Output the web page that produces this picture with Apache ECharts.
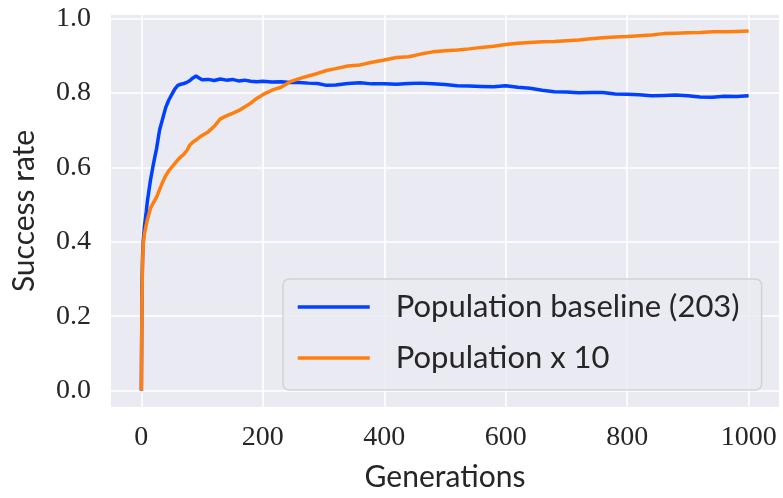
<!DOCTYPE html>
<html>
<head>
<meta charset="utf-8">
<script src="https://cdn.jsdelivr.net/npm/echarts@6/dist/echarts.min.js"></script>
<style>
  html, body { margin: 0; padding: 0; background: #fff; }
  #chart { width: 783px; height: 498px; }
</style>
</head>
<body>
<div id="chart"></div>
<script>
// generation index shared by both curves
const gens = [0, 1, 2, 3, 5, 8, 10, 15, 20, 25, 30, 35, 40, 45, 50, 55, 60, 65, 70, 75,
  80, 85, 90, 95, 100, 110, 120, 130, 140, 150, 160, 170, 180, 190, 200, 215, 230, 245,
  260, 275, 290, 305, 320, 340, 360, 380, 400, 420, 440, 460, 480, 500, 520, 540, 560,
  580, 600, 620, 640, 660, 680, 700, 720, 740, 760, 780, 800, 820, 840, 860, 880, 900,
  920, 940, 960, 980, 1000];

const baselineRate = [0.0, 0.28, 0.36, 0.40, 0.44, 0.48, 0.51, 0.565, 0.61, 0.65, 0.70,
  0.73, 0.76, 0.78, 0.795, 0.81, 0.82, 0.823, 0.825, 0.828, 0.833, 0.84, 0.845, 0.84,
  0.835, 0.836, 0.833, 0.837, 0.834, 0.836, 0.832, 0.834, 0.831, 0.830, 0.831, 0.829,
  0.830, 0.828, 0.828, 0.826, 0.825, 0.820, 0.821, 0.825, 0.827, 0.824, 0.824, 0.823,
  0.825, 0.826, 0.824, 0.822, 0.819, 0.818, 0.817, 0.816, 0.819, 0.815, 0.812, 0.807,
  0.803, 0.802, 0.800, 0.801, 0.801, 0.797, 0.796, 0.795, 0.792, 0.793, 0.794, 0.792,
  0.789, 0.788, 0.791, 0.790, 0.792];

const x10Rate = [0.0, 0.25, 0.34, 0.39, 0.42, 0.445, 0.46, 0.49, 0.505, 0.52, 0.54, 0.56,
  0.577, 0.59, 0.60, 0.61, 0.62, 0.628, 0.635, 0.645, 0.66, 0.668, 0.673, 0.68, 0.685,
  0.695, 0.71, 0.73, 0.738, 0.745, 0.752, 0.762, 0.772, 0.785, 0.795, 0.807, 0.815, 0.83,
  0.838, 0.845, 0.852, 0.86, 0.865, 0.872, 0.875, 0.882, 0.888, 0.895, 0.897, 0.904,
  0.91, 0.913, 0.915, 0.918, 0.922, 0.925, 0.930, 0.933, 0.935, 0.937, 0.938, 0.940,
  0.942, 0.945, 0.948, 0.950, 0.951, 0.953, 0.955, 0.959, 0.960, 0.961, 0.962, 0.964,
  0.964, 0.965, 0.966];

const xTicks = [0, 200, 400, 600, 800, 1000];
const yTicks = [0, 0.2, 0.4, 0.6, 0.8, 1.0];

const serif = '"Liberation Serif", "DejaVu Serif", serif';
const sans = 'Lato, "Noto Sans", sans-serif';
const ink = '#262626';

const chart = echarts.init(document.getElementById('chart'));

chart.setOption({
  animation: false,
  grid: {
    left: 111,
    top: 15,
    width: 668,
    height: 392,
    show: true,
    backgroundColor: '#EAEAF2',
    borderWidth: 0
  },
  legend: {
    orient: 'vertical',
    left: 283,
    top: 279,
    padding: [11, 22, 15, 13],
    itemWidth: 72,
    itemHeight: 34,
    itemGap: 17,
    itemStyle: { opacity: 0 },
    lineStyle: { width: 3.5 },
    backgroundColor: 'rgba(234,234,242,0.8)',
    borderColor: 'rgba(204,204,204,0.8)',
    borderWidth: 1.5,
    borderRadius: 6,
    textStyle: {
      fontFamily: sans,
      fontSize: 31,
      lineHeight: 34,
      color: ink,
      padding: [0, 0, 0, 21]
    }
  },
  xAxis: {
    type: 'value',
    min: -50,
    max: 1050,
    name: 'Generations',
    nameLocation: 'middle',
    nameGap: 55,
    nameTextStyle: { fontFamily: sans, fontSize: 30, color: ink },
    axisLine: { show: false },
    axisTick: { show: false, customValues: xTicks },
    axisLabel: {
      customValues: xTicks,
      margin: 17,
      fontFamily: serif,
      fontSize: 28,
      color: ink,
      formatter: v => String(v)
    },
    splitLine: { show: true, lineStyle: { color: '#ffffff', width: 1.6 } }
  },
  yAxis: {
    type: 'value',
    min: -0.044,
    max: 1.009,
    name: 'Success rate',
    nameLocation: 'middle',
    nameGap: 72,
    nameTextStyle: { fontFamily: sans, fontSize: 30, color: ink },
    axisLine: { show: false },
    axisTick: { show: false, customValues: yTicks },
    axisLabel: {
      customValues: yTicks,
      margin: 20,
      fontFamily: serif,
      fontSize: 28,
      color: ink,
      formatter: v => v.toFixed(1)
    },
    splitLine: { show: true, lineStyle: { color: '#ffffff', width: 1.6 } }
  },
  series: [
    {
      name: 'Population baseline (203)',
      type: 'line',
      symbol: 'none',
      color: '#0040ff',
      lineStyle: { width: 3.5 },
      data: gens.map((g, i) => [g, baselineRate[i]])
    },
    {
      name: 'Population x 10',
      type: 'line',
      symbol: 'none',
      color: '#ff7f0e',
      lineStyle: { width: 3.5 },
      data: gens.map((g, i) => [g, x10Rate[i]])
    }
  ]
});
</script>
</body>
</html>
